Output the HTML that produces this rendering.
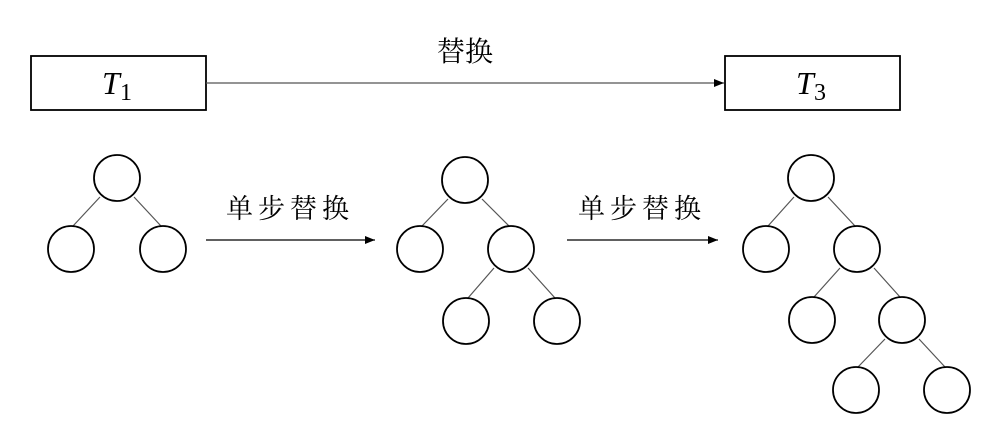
<!DOCTYPE html>
<html><head><meta charset="utf-8"><style>
html,body{margin:0;padding:0;background:#fff;}
</style></head><body>
<svg width="990" height="426" viewBox="0 0 990 426" xmlns="http://www.w3.org/2000/svg">
<defs><marker id="a" markerWidth="10" markerHeight="10" refX="10" refY="5" orient="auto" markerUnits="userSpaceOnUse"><path d="M0,1 L10,5 L0,9 Z" fill="#000"/></marker></defs>
<g fill="none" stroke="#000" stroke-width="1.8">
<rect x="31" y="56" width="175" height="54"/>
<rect x="725" y="56" width="175" height="54"/>
</g>
<g stroke="#555" stroke-width="1.2">
<line x1="206" y1="83" x2="724" y2="83" marker-end="url(#a)"/>
<line x1="206" y1="240" x2="375" y2="240" stroke="#000" marker-end="url(#a)"/>
<line x1="567" y1="240" x2="718" y2="240" stroke="#000" marker-end="url(#a)"/>
<!-- tree1 edges -->
<line x1="100" y1="197" x2="73" y2="226"/><line x1="134" y1="197" x2="161" y2="226"/>
<!-- tree2 -->
<line x1="448" y1="199" x2="422" y2="226"/><line x1="482" y1="199" x2="509" y2="226"/>
<line x1="494" y1="268" x2="468" y2="298"/><line x1="528" y1="268" x2="555" y2="298"/>
<!-- tree3 -->
<line x1="794" y1="197" x2="768" y2="226"/><line x1="828" y1="197" x2="855" y2="226"/>
<line x1="840" y1="268" x2="814" y2="297"/><line x1="874" y1="268" x2="900" y2="297"/>
<line x1="885" y1="339" x2="858" y2="367"/><line x1="919" y1="339" x2="945" y2="367"/>
</g>
<g fill="#fff" stroke="#000" stroke-width="1.8">
<circle cx="117" cy="178" r="23"/><circle cx="71" cy="249" r="23"/><circle cx="163" cy="249" r="23"/>
<circle cx="465" cy="180" r="23"/><circle cx="420" cy="249" r="23"/><circle cx="511" cy="249" r="23"/>
<circle cx="466" cy="321" r="23"/><circle cx="557" cy="321" r="23"/>
<circle cx="811" cy="178" r="23"/><circle cx="766" cy="249" r="23"/><circle cx="857" cy="249" r="23"/>
<circle cx="812" cy="320" r="23"/><circle cx="902" cy="320" r="23"/>
<circle cx="856" cy="390" r="23"/><circle cx="947" cy="390" r="23"/>
</g>
<g font-family="'Liberation Serif','Noto Serif CJK SC',serif" fill="#000">
<text x="465" y="61" font-size="28" text-anchor="middle">替换</text>
<text x="290" y="218" font-size="27" text-anchor="middle" letter-spacing="5">单步替换</text>
<text x="642" y="218" font-size="27" text-anchor="middle" letter-spacing="5">单步替换</text>
<text x="102" y="94" font-size="32" font-style="italic">T</text>
<text x="120" y="100" font-size="24">1</text>
<text x="796" y="94" font-size="32" font-style="italic">T</text>
<text x="814" y="100" font-size="24">3</text>
</g>
</svg>
</body></html>
